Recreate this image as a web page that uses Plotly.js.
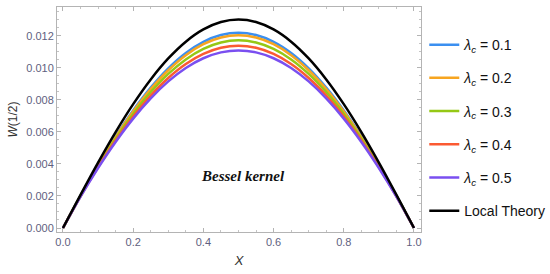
<!DOCTYPE html>
<html>
<head>
<meta charset="utf-8">
<script src="https://cdn.plot.ly/plotly-3.0.1.min.js"></script>
<style>html,body{margin:0;padding:0;background:#fff;}#chart{width:550px;height:274px;}</style>
</head>
<body>
<div id="chart"></div>
<script>
const xs = [0,0.05,0.1,0.15,0.2,0.25,0.3,0.35,0.4,0.45,0.5,0.55,0.6,0.65,0.7,0.75,0.8,0.85,0.9,0.95,1.0];
const localTheory = [0,.002073,.0040875,.0059898,.0077333,.0092773,.0105875,.0116357,.0124,.0128648,.0130208,.0128648,.0124,.0116357,.0105875,.0092773,.0077333,.0059898,.0040875,.002073,0];
const lam01 = [0,.002024,.003942,.005726,.007345,.008768,.009971,.010929,.011626,.012049,.012191,.012049,.011626,.010929,.009971,.008768,.007345,.005726,.003942,.002024,0];
const lam02 = [0,.002014,.003913,.005675,.00727,.00867,.009851,.010792,.011476,.011892,.012031,.011892,.011476,.010792,.009851,.00867,.00727,.005675,.003913,.002014,0];
const lam03 = [0,.001996,.003859,.005576,.007125,.00848,.009621,.010528,.011187,.011587,.011721,.011587,.011187,.010528,.009621,.00848,.007125,.005576,.003859,.001996,0];
const lam04 = [0,.001976,.003799,.005468,.006965,.008272,.009368,.010239,.01087,.011253,.011381,.011253,.01087,.010239,.009368,.008272,.006965,.005468,.003799,.001976,0];
const lam05 = [0,.001958,.003748,.005376,.00683,.008094,.009153,.009992,.0106,.010967,.011091,.010967,.0106,.009992,.009153,.008094,.00683,.005376,.003748,.001958,0];
const names = ["<i>λ</i><sub><i>c</i></sub> = 0.1","<i>λ</i><sub><i>c</i></sub> = 0.2","<i>λ</i><sub><i>c</i></sub> = 0.3","<i>λ</i><sub><i>c</i></sub> = 0.4","<i>λ</i><sub><i>c</i></sub> = 0.5","Local Theory"];
const series = [lam01, lam02, lam03, lam04, lam05, localTheory];
const colors = ["#3b8ff0","#f7a520","#95c815","#fb5a32","#7a4ff0","#000000"];

const traces = series.map((ys,i)=>({
  x: xs, y: ys, type:'scatter', mode:'lines', name: names[i],
  line:{color:colors[i], width:2.5, shape:'spline', smoothing:1},
  legendgroup:'g'+i
}));

const axisCommon = {
  showgrid:false, zeroline:false, showline:true, linecolor:'#b4b4b4', linewidth:1,
  mirror:'allticks', ticks:'inside', ticklen:4, tickcolor:'#b4b4b4', tickwidth:1,
  tickfont:{family:'Liberation Sans, Arial, sans-serif', size:11, color:'#5f5f80'}
};

const layout = {
  width:550, height:274,
  margin:{l:57, r:129, t:7, b:42, autoexpand:false},
  paper_bgcolor:'#fff', plot_bgcolor:'#fff',
  xaxis: Object.assign({}, axisCommon, {
    range:[-0.017, 1.02], tickvals:[0,0.2,0.4,0.6,0.8,1.0], ticktext:['0.0','0.2','0.4','0.6','0.8','1.0'],
    minor:{ticks:'inside', dtick:0.05, tick0:0, ticklen:2, tickcolor:'#c4c4c4'},
    title:{text:'<i>X</i>', font:{family:'Liberation Sans, Arial, sans-serif', size:13, color:'#333'}, standoff:8}
  }),
  yaxis: Object.assign({}, axisCommon, {
    range:[-0.00025, 0.0138], dtick:0.002, tick0:0, tickformat:'.3f',
    minor:{ticks:'inside', dtick:0.0005, tick0:0, ticklen:2, tickcolor:'#c4c4c4'},
    title:{text:'<i>W</i>(1/2)', font:{family:'Liberation Sans, Arial, sans-serif', size:12, color:'#333'}, standoff:6}
  }),
  showlegend:true,
  legend:{x:1.009, xanchor:'left', y:0.462, yanchor:'middle', tracegroupgap:12,
    font:{family:'Liberation Sans, Arial, sans-serif', size:14, color:'#111'}, bgcolor:'rgba(0,0,0,0)'},
  annotations:[{x:0.514, y:0.00325, xref:'x', yref:'y', text:'<b><i>Bessel kernel</i></b>', showarrow:false,
    font:{family:'Liberation Serif, DejaVu Serif, serif', size:15, color:'#111'}}]
};

Plotly.newPlot('chart', traces, layout, {displayModeBar:false, staticPlot:true});
</script>
</body>
</html>
